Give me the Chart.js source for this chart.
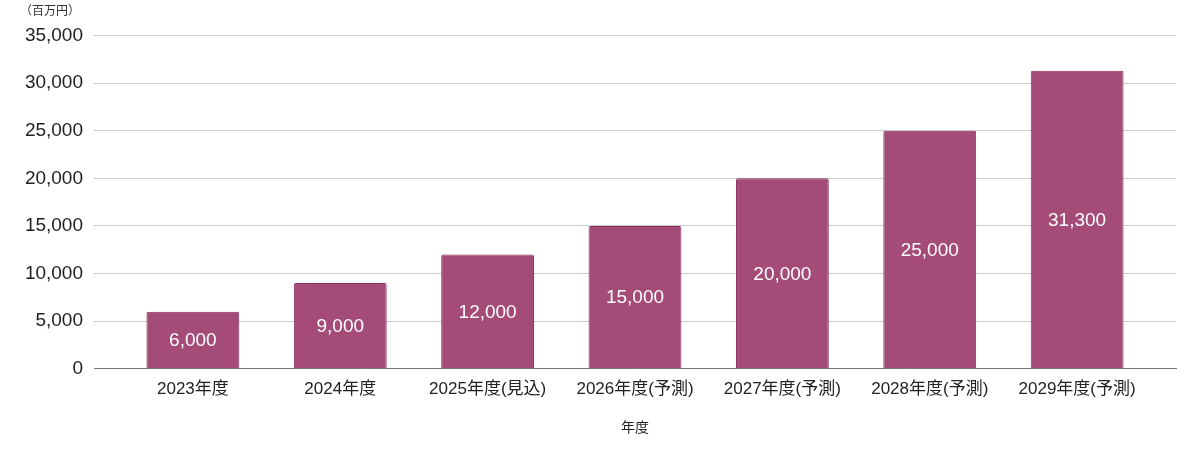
<!DOCTYPE html>
<html lang="ja">
<head>
    <meta charset="UTF-8">
    <title>年度別推移</title>
    <script src="https://cdn.jsdelivr.net/npm/chart.js"></script>
    <style>
        html, body { margin: 0; padding: 0; background: #fff; }
        .wrap { width: 1200px; height: 460px; }
    </style>
</head>
<body>
    <div class="wrap">
        <canvas id="myChart" width="1200" height="460"></canvas>
    </div>

    <script>
        // Chart data
        const categories = ['2023年度', '2024年度', '2025年度(見込)', '2026年度(予測)', '2027年度(予測)', '2028年度(予測)', '2029年度(予測)'];
        const values = [6000, 9000, 12000, 15000, 20000, 25000, 31300];
        const yTickValues = [0, 5000, 10000, 15000, 20000, 25000, 30000, 35000];

        const fontFamily = '"Liberation Sans", Arial, "Noto Sans CJK JP", sans-serif';
        const fmt = v => Number(v).toLocaleString('en-US');

        // Draw the value in the middle of each bar
        const barLabels = {
            id: 'barLabels',
            afterDatasetsDraw(chart) {
                const ctx = chart.ctx;
                const meta = chart.getDatasetMeta(0);
                ctx.save();
                ctx.fillStyle = '#ffffff';
                ctx.font = '19px ' + fontFamily;
                ctx.textAlign = 'center';
                ctx.textBaseline = 'middle';
                meta.data.forEach((bar, i) => {
                    ctx.fillText(fmt(values[i]), bar.x, (bar.y + bar.base) / 2 + 1);
                });
                ctx.restore();
            }
        };

        const ctx = document.getElementById('myChart').getContext('2d');
        const chart = new Chart(ctx, {
            type: 'bar',
            data: {
                datasets: [{
                    label: '売上',
                    data: values.map((v, i) => ({ x: i, y: v })),
                    backgroundColor: '#a44c77',
                    borderColor: '#8a2a5e',
                    borderWidth: 1,
                    borderRadius: { topLeft: 2, topRight: 2 },
                    borderSkipped: 'bottom',
                    categoryPercentage: 1,
                    barPercentage: 0.63
                }]
            },
            options: {
                responsive: false,
                animation: false,
                layout: { padding: { left: 20, right: 24, top: 0, bottom: 23 } },
                plugins: {
                    legend: { display: false },
                    tooltip: { enabled: false },
                    title: {
                        display: true,
                        text: '（百万円）',
                        align: 'start',
                        color: '#333',
                        font: { family: fontFamily, size: 12, weight: 'normal' },
                        padding: { top: 4, bottom: 17 }
                    }
                },
                scales: {
                    x: {
                        type: 'linear',
                        offset: false,
                        min: -0.671,
                        max: categories.length - 1 + 0.671,
                        grid: { display: false, drawTicks: false, offset: false },
                        border: { display: true, color: '#777', width: 1 },
                        ticks: {
                            stepSize: 1,
                            includeBounds: false,
                            autoSkip: false,
                            maxRotation: 0,
                            padding: 10,
                            color: '#222',
                            font: { family: fontFamily, size: 17 },
                            callback: v => categories[v] ?? ''
                        },
                        title: {
                            display: true,
                            text: '年度',
                            color: '#222',
                            font: { family: fontFamily, size: 14 },
                            padding: { top: 11, bottom: 0 }
                        }
                    },
                    y: {
                        min: 0,
                        max: 35000,
                        afterBuildTicks: axis => { axis.ticks = yTickValues.map(v => ({ value: v })); },
                        afterFit: axis => { axis.width = 74; },
                        grid: { color: '#cccccc', lineWidth: 1, drawTicks: false },
                        border: { display: false },
                        ticks: {
                            padding: 11,
                            color: '#222',
                            font: { family: fontFamily, size: 19 },
                            callback: v => fmt(v)
                        }
                    }
                }
            },
            plugins: [barLabels]
        });
    </script>
</body>
</html>
